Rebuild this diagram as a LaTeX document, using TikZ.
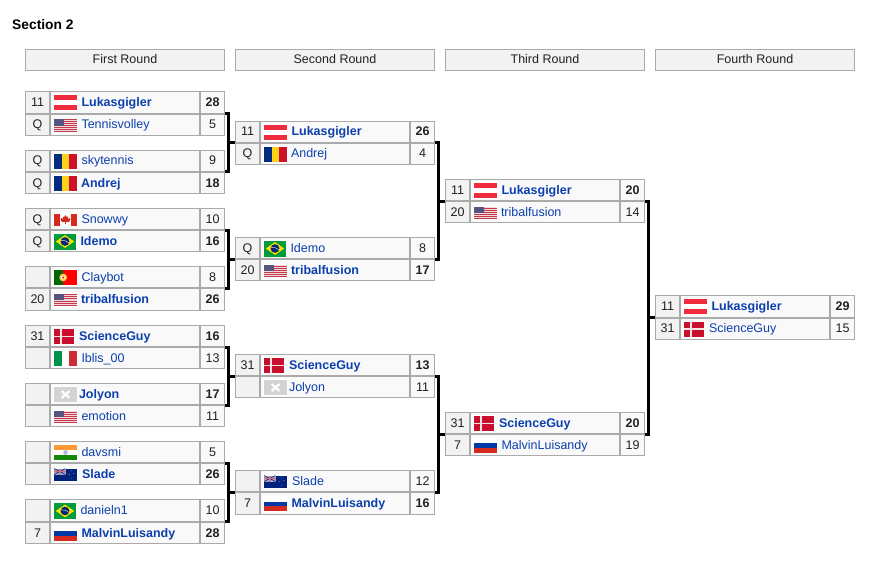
\documentclass[tikz,border=0pt]{standalone}
\usepackage{fontspec}
\setmainfont{Liberation Sans}
\definecolor{bdr}{HTML}{AAAAAA}
\definecolor{seedbg}{HTML}{F2F2F2}
\definecolor{cellbg}{HTML}{F9F9F9}
\definecolor{linkc}{HTML}{0B3FAD}
\definecolor{txt}{HTML}{202122}
\newcommand{\tf}{\fontsize{12.5}{14}\selectfont}
\tikzset{
  cell/.style={draw=bdr,line width=1pt,inner sep=0pt,outer sep=0pt,anchor=north west,text=txt,
    text height=8pt,text depth=0pt,font=\tf},
  seedcell/.style={cell,fill=seedbg,minimum width=24pt},
  namecell/.style={cell,fill=cellbg,minimum width=149pt},
  scorecell/.style={cell,fill=cellbg,minimum width=24pt},
  playername/.style={anchor=base west,inner sep=0pt,outer sep=0pt,text=linkc,font=\tf},
  headcell/.style={draw=bdr,fill=seedbg,line width=1pt,inner sep=0pt,outer sep=0pt,anchor=north west,
    minimum width=199pt,minimum height=21pt,text=txt,text height=8pt,text depth=0pt,font=\tf},
  matchbox/.style={inner sep=0pt,outer sep=0pt,anchor=north west,minimum width=200pt},
  bracket/.style={draw=black,line width=3pt},
}
\newcommand{\W}[1]{{\bfseries #1}}
\newcommand{\fl}[3]{%
  \begin{scope}[shift={(\fx,\cy)}]
  \begin{scope}[shift={(0,{0.5-#2/2})}]
  \begin{scope}[x=#1pt,y=-#2pt]
    \fill[white] (-0.04,-0.06) rectangle (1.04,1.06);
    #3
  \end{scope}\end{scope}\end{scope}}
\definecolor{atred}{HTML}{EF2B3D}
\newcommand{\fAT}{\fl{23}{15}{\fill[atred] (0,0) rectangle (1,1/3); \fill[atred] (0,2/3) rectangle (1,1);}}
\definecolor{usred}{HTML}{C23A4C}
\definecolor{usw}{HTML}{F2D8DA}
\definecolor{usb}{HTML}{55557F}
\newcommand{\fUS}{\fl{23}{12}{\foreach \i in {0,2,...,12}{\fill[usred] (0,\i/13) rectangle (1,{(\i+1)/13});}
  \foreach \i in {1,3,...,11}{\fill[usw] (0,\i/13) rectangle (1,{(\i+1)/13});}
  \fill[usb] (0,0) rectangle (0.42,7/13);}}
\definecolor{rob}{HTML}{002B7F}
\definecolor{roy}{HTML}{FCD116}
\definecolor{ror}{HTML}{CE1126}
\newcommand{\fRO}{\fl{23}{15.5}{\fill[rob] (0,0) rectangle (1/3,1); \fill[roy] (1/3,0) rectangle (2/3,1); \fill[ror] (2/3,0) rectangle (1,1);}}
\definecolor{car}{HTML}{D52B1E}
\newcommand{\fCA}{\fl{23}{12}{\fill[car] (0,0) rectangle (0.25,1); \fill[car] (0.75,0) rectangle (1,1);
  \fill[car] (0.5,0.14) -- (0.56,0.3) -- (0.62,0.26) -- (0.6,0.48) -- (0.68,0.38) -- (0.71,0.46) -- (0.69,0.6) -- (0.64,0.72) -- (0.52,0.68) -- (0.52,0.88) -- (0.48,0.88) -- (0.48,0.68) -- (0.36,0.72) -- (0.31,0.6) -- (0.29,0.46) -- (0.32,0.38) -- (0.4,0.48) -- (0.38,0.26) -- (0.44,0.3) -- cycle;}}
\definecolor{brg}{HTML}{009B3A}
\definecolor{bry}{HTML}{FEDF00}
\definecolor{brb}{HTML}{002776}
\newcommand{\fBR}{\fl{22}{16}{\fill[brg] (0,0) rectangle (1,1);
  \fill[bry] (0.08,0.5) -- (0.5,0.1) -- (0.92,0.5) -- (0.5,0.9) -- cycle;
  \fill[brb] (0.5,0.5) ellipse [x radius=0.2,y radius=0.27];
  \draw[white!80!brb,line width=0.5pt] (0.31,0.42) .. controls (0.45,0.4) and (0.6,0.48) .. (0.69,0.6);}}
\definecolor{ptr}{HTML}{FF0000}
\definecolor{ptg}{HTML}{006600}
\definecolor{pty}{HTML}{FFCC33}
\newcommand{\fPT}{\fl{23}{15}{\fill[ptr] (0,0) rectangle (1,1); \fill[ptg] (0,0) rectangle (0.4,1);
  \fill[pty] (0.4,0.5) ellipse [x radius=0.17,y radius=0.26];
  \fill[white] (0.4,0.5) ellipse [x radius=0.09,y radius=0.13];
  \fill[ptr] (0.4,0.5) ellipse [x radius=0.05,y radius=0.07];}}
\definecolor{dkr}{HTML}{C8102E}
\definecolor{dkw}{HTML}{F4E4E6}
\newcommand{\fDK}{\fl{20}{15}{\fill[dkr] (0,0) rectangle (1,1);
  \fill[dkw] (0.31,0) rectangle (0.41,1); \fill[dkw] (0,0.44) rectangle (1,0.56);}}
\definecolor{itg}{HTML}{009246}
\definecolor{itr}{HTML}{CE2B37}
\newcommand{\fIT}{\fl{23}{15.5}{\fill[itg] (0,0) rectangle (1/3,1); \fill[itr] (2/3,0) rectangle (1,1);}}
\definecolor{nag}{HTML}{D3D3D3}
\newcommand{\fNA}{\fl{23}{15}{\fill[nag] (0,0) rectangle (1,1);
  \draw[white,line width=2.2pt] (0.33,0.27) -- (0.67,0.73) (0.33,0.73) -- (0.67,0.27);}}
\definecolor{ino}{HTML}{FF9933}
\definecolor{ing}{HTML}{138808}
\definecolor{inb}{HTML}{B5B5DD}
\newcommand{\fIN}{\fl{23}{15.5}{\fill[ino] (0,0) rectangle (1,1/3); \fill[ing] (0,2/3) rectangle (1,1);
  \fill[inb] (0.5,0.5) ellipse [x radius=0.1,y radius=0.15];}}
\definecolor{nzb}{HTML}{00247D}
\definecolor{nzp}{HTML}{A8A0C0}
\definecolor{nzr}{HTML}{DD6677}
\newcommand{\fNZ}{\fl{23}{12}{\fill[nzb] (0,0) rectangle (1,1);
  \fill[nzp] (0,0) rectangle (0.5,0.5);
  \draw[nzb,line width=0.6pt] (0,0) -- (0.5,0.5) (0,0.5) -- (0.5,0);
  \draw[nzr,line width=0.9pt] (0.25,0) -- (0.25,0.5) (0,0.25) -- (0.5,0.25);
  \fill[nzr] (0.75,0.2) circle [radius=0.03];
  \fill[nzr] (0.68,0.5) circle [radius=0.03];
  \fill[nzr] (0.86,0.42) circle [radius=0.03];
  \fill[nzr] (0.76,0.8) circle [radius=0.03];}}
\definecolor{rub}{HTML}{0039A6}
\definecolor{rur}{HTML}{D52B1E}
\newcommand{\fRU}{\fl{23}{14}{\fill[rub] (0,1/3) rectangle (1,2/3); \fill[rur] (0,2/3) rectangle (1,1);}}
% match machinery: id, x, top, centre of the double separator, bottom
\newcommand{\mstart}[5]{\def\mid{#1}\def\mx{#2}\def\mt{#3}\def\ms{#4}\def\mb{#5}%
  \pgfmathsetmacro{\mh}{#5-#3}%
  \node[matchbox,minimum height=\mh pt] (#1) at (#2,#3) {};}
% #1 suffix #2 top #3 height #4 seed #5 flag #6 text offset #7 name #8 score
\newcommand{\mrow}[8]{%
  \pgfmathsetmacro{\ry}{#2}%
  \pgfmathsetmacro{\rh}{#3}%
  \pgfmathsetmacro{\cy}{\ry+\rh/2}%
  \pgfmathsetmacro{\fx}{\mx+29}%
  \node[seedcell,minimum height=\rh pt] (\mid#1s) at (\mx+0.5,\ry) {#4};
  \node[namecell,minimum height=\rh pt] (\mid#1n) at (\mx+25.5,\ry) {};
  \node[scorecell,minimum height=\rh pt] (\mid#1v) at (\mx+175.5,\ry) {#8};
  #5
  \node[playername] (\mid#1p) at (\mx+#6,\cy+4) {#7};
}
\newcommand{\rowT}[5]{\mrow{t}{\mt}{\ms-0.5-\mt}{#1}{#2}{#3}{#4}{#5}}
\newcommand{\rowB}[5]{\mrow{b}{\ms+0.5}{\mb-\ms-0.5}{#1}{#2}{#3}{#4}{#5}}
\begin{document}
\begin{tikzpicture}[x=1pt,y=-1pt]
\useasboundingbox (0,0) rectangle (888,564);
\fill[white] (0,0) rectangle (888,564);
\node[anchor=base west,inner sep=0pt,font=\fontsize{13.8}{16}\selectfont\bfseries,text=black] (title) at (12,30) {Section 2};
\node[headcell] (h1) at (25.5,49.5) {First Round};
\node[headcell] (h2) at (235.5,49.5) {Second Round};
\node[headcell] (h3) at (445.5,49.5) {Third Round};
\node[headcell] (h4) at (655.5,49.5) {Fourth Round};

\mstart{ma}{25}{91.5}{114}{135.5}
\rowT{11}{\fAT}{56.5}{\W{Lukasgigler}}{\W{28}}
\rowB{Q}{\fUS}{56.5}{Tennisvolley}{5}
\mstart{mb}{25}{150.5}{172}{193.5}
\rowT{Q}{\fRO}{56.5}{skytennis}{9}
\rowB{Q}{\fRO}{56}{\W{Andrej}}{\W{18}}
\mstart{mc}{25}{208.5}{230}{251.5}
\rowT{Q}{\fCA}{56.5}{Snowwy}{10}
\rowB{Q}{\fBR}{55.5}{\W{Idemo}}{\W{16}}
\mstart{md}{25}{266.5}{288}{310.5}
\rowT{}{\fPT}{56.5}{Claybot}{8}
\rowB{20}{\fUS}{56}{\W{tribalfusion}}{\W{26}}
\mstart{me}{25}{325.5}{347}{368.5}
\rowT{31}{\fDK}{54}{\W{ScienceGuy}}{\W{16}}
\rowB{}{\fIT}{56.5}{Iblis\_00}{13}
\mstart{mf}{25}{383.5}{405}{426.5}
\rowT{}{\fNA}{54}{\W{Jolyon}}{\W{17}}
\rowB{}{\fUS}{56.5}{emotion}{11}
\mstart{mg}{25}{441.5}{463}{484.5}
\rowT{}{\fIN}{56.5}{davsmi}{5}
\rowB{}{\fNZ}{57}{\W{Slade}}{\W{26}}
\mstart{mh}{25}{499.5}{522}{543.5}
\rowT{}{\fBR}{55.5}{danieln1}{10}
\rowB{7}{\fRU}{56.5}{\W{MalvinLuisandy}}{\W{28}}

\mstart{mi}{235}{121.5}{143}{164.5}
\rowT{11}{\fAT}{56.5}{\W{Lukasgigler}}{\W{26}}
\rowB{Q}{\fRO}{56}{Andrej}{4}
\mstart{mj}{235}{237.5}{259}{280.5}
\rowT{Q}{\fBR}{55.5}{Idemo}{8}
\rowB{20}{\fUS}{56}{\W{tribalfusion}}{\W{17}}
\mstart{mk}{235}{354.5}{376}{397.5}
\rowT{31}{\fDK}{54}{\W{ScienceGuy}}{\W{13}}
\rowB{}{\fNA}{54}{Jolyon}{11}
\mstart{ml}{235}{470.5}{492}{514.5}
\rowT{}{\fNZ}{57}{Slade}{12}
\rowB{7}{\fRU}{56.5}{\W{MalvinLuisandy}}{\W{16}}

\mstart{mm}{445}{179.5}{201}{222.5}
\rowT{11}{\fAT}{56.5}{\W{Lukasgigler}}{\W{20}}
\rowB{20}{\fUS}{56}{tribalfusion}{14}
\mstart{mn}{445}{412.5}{434}{455.5}
\rowT{31}{\fDK}{54}{\W{ScienceGuy}}{\W{20}}
\rowB{7}{\fRU}{56.5}{MalvinLuisandy}{19}

\mstart{mo}{655}{295.5}{317.5}{339.5}
\rowT{11}{\fAT}{56.5}{\W{Lukasgigler}}{\W{29}}
\rowB{31}{\fDK}{54}{ScienceGuy}{15}

\foreach \a/\b/\c in {ma/mb/mi,mc/md/mj,me/mf/mk,mg/mh/ml,mi/mj/mm,mk/ml/mn,mm/mn/mo}{
  \draw[bracket] (\a.east) -- ++(3.5,0) |- (\c.west);
  \draw[bracket] (\b.east) -- ++(3.5,0) |- (\c.west);
}
\end{tikzpicture}
\end{document}
